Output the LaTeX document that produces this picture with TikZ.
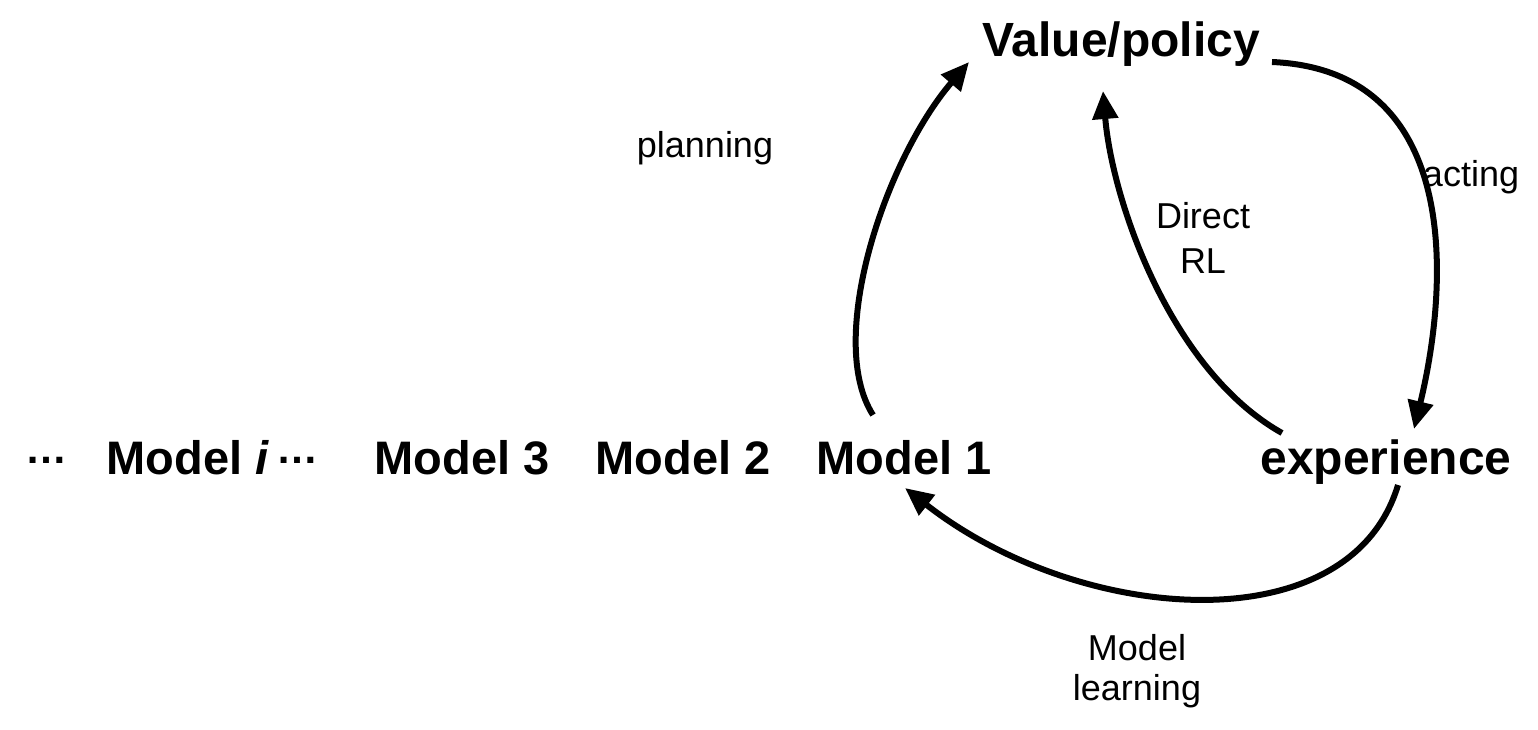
\documentclass[tikz,border=0pt]{standalone}
\usepackage{fontspec}
\setmainfont{Liberation Sans}
\usetikzlibrary{arrows.meta}
\begin{document}
\begin{tikzpicture}[x=1pt,y=-1pt,
  big/.style={font=\fontsize{47}{50}\selectfont\bfseries, inner sep=0pt, anchor=base},
  lbl/.style={font=\fontsize{36}{45}\selectfont, inner sep=0pt, anchor=base, align=center},
  dots/.style={font=\fontsize{42}{50}\selectfont\bfseries, inner sep=0pt, anchor=base},
  conn/.style={line width=6pt, -{Triangle[length=28pt,width=25pt]}}]
\useasboundingbox (0,0) rectangle (1538,729);
\node[dots] (d1) at (46,463) {…};
\node[big] (mi) at (188,474) {Model \textit{i}};
\node[dots] (d2) at (297,463) {…};
\node[big] (m3) at (462,474) {Model 3};
\node[big] (m2) at (683,474) {Model 2};
\node[big] (m1) at (904,474) {Model 1};
\node[big, font=\fontsize{48}{50}\selectfont\bfseries] (ex) at (1386,474) {experience};
\node[big, font=\fontsize{48}{50}\selectfont\bfseries] (vp) at (1121,56) {Value/policy};
\node[lbl] (pl) at (705,157) {planning};
\node[lbl] (ac) at (1471,186) {acting};
\node[lbl] (dr) at (1203,273) {Direct\\RL};
\node[lbl, font=\fontsize{36}{40}\selectfont] (ml) at (1137,700) {Model\\learning};
\coordinate (ps) at (873,415);
\coordinate (pe) at (969,62);
\coordinate (as) at (1272,62);
\coordinate (ae) at (1414,429);
\coordinate (ds) at (1282,433);
\coordinate (de) at (1103,91);
\coordinate (ms) at (1398,485);
\coordinate (me) at (905,488);
\draw[conn] (ps) .. controls (825,340) and (885,160) .. (pe);
\draw[conn] (as) .. controls (1460,70) and (1450,280) .. (ae);
\draw[conn] (ds) .. controls (1170,370) and (1112,200) .. (de);
\draw[conn] (ms) .. controls (1350,645) and (1080,625) .. (me);
\end{tikzpicture}
\end{document}
